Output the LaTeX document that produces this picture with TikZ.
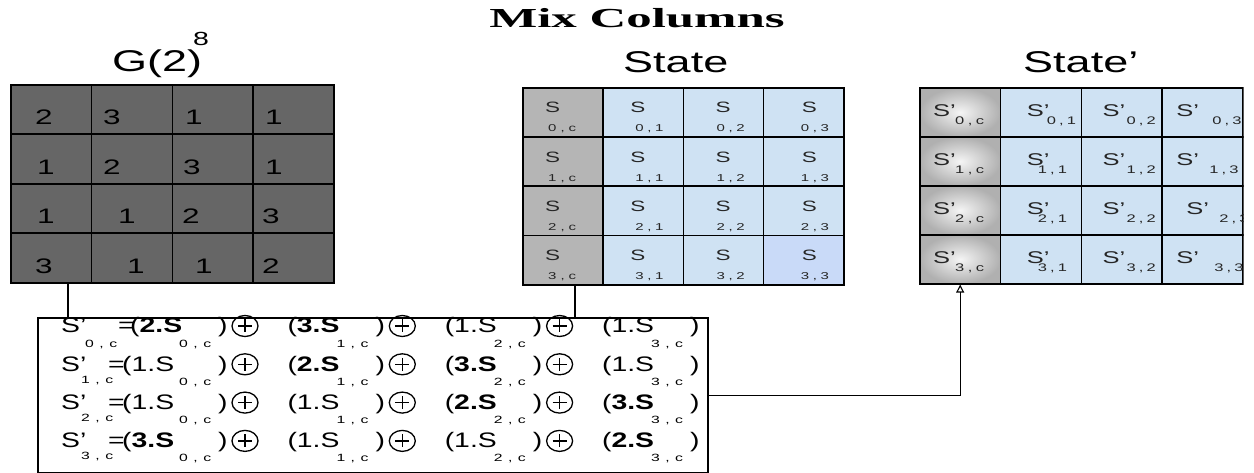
\documentclass[tikz,border=0pt]{standalone}
\usepackage{fontspec}
\setmainfont{Liberation Sans}
\newfontfamily\wsf[FakeStretch=1.5]{Liberation Sans}
\newfontfamily\esf[FakeStretch=1.35]{Liberation Sans}
\newfontfamily\ttlf[FakeStretch=1.85]{Liberation Serif}
\usetikzlibrary{arrows.meta,shapes.geometric}
\definecolor{gdark}{HTML}{666666}
\definecolor{sgray}{HTML}{B5B5B5}
\definecolor{sblue}{HTML}{CFE2F3}
\definecolor{sblueb}{HTML}{C9DAF8}
\newcommand\spc[3]{\makebox[#1][s]{#2\hfill,\hfill #3}}
\begin{document}
\begin{tikzpicture}[x=1pt,y=-1pt,
  gbox/.style={draw=black,line width=1.6pt,fill=gdark,inner sep=0pt,anchor=north west,minimum width=80.75pt,minimum height=49.5pt},
  sbox/.style={draw=black,line width=1.6pt,fill=sblue,inner sep=0pt,anchor=north west,minimum width=80.25pt,minimum height=49.25pt},
  pbox/.style={draw=black,line width=1.6pt,fill=sblue,inner sep=0pt,anchor=north west,minimum width=80.75pt,minimum height=49pt},
  txt/.style={inner sep=0pt,anchor=base west},
  gnum/.style={txt,font=\wsf\fontsize{21}{21}\selectfont},
  lbl/.style={txt,font=\wsf\fontsize{30}{30}\selectfont},
  sS/.style={txt,font=\wsf\fontsize{15}{15}\selectfont,text=black!85},
  sSub/.style={txt,font=\wsf\fontsize{10}{10}\selectfont,text=black!85},
  pS/.style={txt,font=\wsf\fontsize{17}{17}\selectfont,text=black!85},
  pSub/.style={txt,font=\wsf\fontsize{11}{11}\selectfont,text=black!85},
  eqtxt/.style={txt,font=\esf\fontsize{21}{21}\selectfont},
  eqsub/.style={txt,font=\wsf\fontsize{10.5}{10.5}\selectfont},
  oplus/.style={draw=black,ellipse,line width=1.3pt,minimum width=26pt,minimum height=21pt,inner sep=0pt},
  conn/.style={draw=black,line width=1.3pt}
]
\useasboundingbox (0,0) rectangle (1254,473);

% title
\node[anchor=base,inner sep=0pt,font=\ttlf\bfseries\fontsize{27.5}{27.5}\selectfont] (title) at (637,28) {Mix Columns};

% labels
\node[lbl] (glbl) at (112,72) {G(2)};
\node[txt,font=\wsf\fontsize{19}{19}\selectfont] (gsup) at (193,46) {8};
\node[lbl] (slbl) at (623,73) {State};
\node[lbl] (plbl) at (1023,73) {State’};

% G(2)^8 matrix
\foreach \r in {0,...,3}
  \foreach \c in {0,...,3}
    \node[gbox] (g\r\c) at ({10+80.75*\c},{84+49.5*\r}) {};
\foreach \r/\c/\x/\t in {0/0/35/2,0/1/103/3,0/2/185/1,0/3/265/1,
                          1/0/37/1,1/1/103/2,1/2/183/3,1/3/265/1,
                          2/0/37/1,2/1/118/1,2/2/182/2,2/3/262/3,
                          3/0/35/3,3/1/127/1,3/2/195/1,3/3/262/2}
  \node[gnum] (gd\r\c) at (\x,{84+49.5*\r+41}) {\t};

% State matrix
\foreach \r in {0,...,3}{
  \node[sbox,fill=sgray] (s\r0) at (522,{87+49.25*\r}) {};
  \foreach \c in {1,2,3}
    \node[sbox] (s\r\c) at ({522+80.25*\c},{87+49.25*\r}) {};
}
\node[sbox,fill=sblueb] (s33) at ({522+80.25*3},{87+49.25*3}) {};
\foreach \r in {0,...,3}{
  \foreach \c/\sx/\bx/\q in {0/23/26/c,1/28/33/1,2/33/34/2,3/39/38/3}{
    \node[sS] (ss\r\c) at ({522+80.25*\c+\sx},{87+49.25*\r+26}) {S};
    \node[sSub] (sb\r\c) at ({522+80.25*\c+\bx},{87+49.25*\r+45}) {\spc{28pt}{\r}{\q}};
  }
}

% State' matrix
\begin{scope}
\clip (0,0) rectangle (1243.5,473);
\foreach \r in {0,...,3}{
  \node[pbox,shading=radial,inner color=gray!8,outer color=gray!62] (p\r0) at (919,{87+49*\r}) {};
  \foreach \c in {1,2,3}
    \node[pbox] (p\r\c) at ({919+80.75*\c},{87+49*\r}) {};
}
\foreach \r/\c/\sx/\bx/\q in {0/0/14/36/c,1/0/14/36/c,2/0/14/36/c,3/0/14/36/c,
   0/1/27/47/1,1/1/27/38/1,2/1/27/38/1,3/1/27/38/1,
   0/2/22/46/2,1/2/22/46/2,2/2/22/46/2,3/2/22/46/2,
   0/3/15/51/3,1/3/15/48/3,2/3/25/58/3,3/3/15/53/3}{
  \node[pS] (ps\r\c) at ({919+80.75*\c+\sx},{87+49*\r+30}) {S’};
  \node[pSub] (pb\r\c) at ({919+80.75*\c+\bx},{87+49*\r+38}) {\spc{29pt}{\r}{\q}};
}
\end{scope}

% equation box
\node[draw=black,line width=1.6pt,anchor=north west,inner sep=0pt,minimum width=670pt,minimum height=155pt] (eq) at (37,317) {};

\foreach \r/\ex/\tz/\qa/\qb/\qc/\qd in {
   0/118/130/{\bfseries 2}/{\bfseries 3}/1/1,
   1/108/122/1/{\bfseries 2}/{\bfseries 3}/1,
   2/108/122/1/1/{\bfseries 2}/{\bfseries 3},
   3/108/122/{\bfseries 3}/1/1/{\bfseries 2}}{
  \pgfmathsetmacro\bl{333+38.3*\r}
  \node[eqtxt] (sp\r) at (61,\bl) {S’};
  \ifnum\r=0
    \node[eqsub] (sps\r) at (85,\bl+14) {\spc{32pt}{\r}{c}};
  \else
    \node[eqsub] (sps\r) at (81,\bl+12) {\spc{32pt}{\r}{c}};
  \fi
  \node[eqtxt] (eqs\r) at (\ex,\bl) {=};
  \foreach \k/\cf in {0/\qa,1/\qb,2/\qc,3/\qd}{
    \pgfmathsetmacro\tt{130+157.3*\k}
    \ifnum\k=0 \pgfmathsetmacro\ts{\tz}\else \pgfmathsetmacro\ts{\tt}\fi
    \node[eqtxt] (tm\r\k) at (\ts,\bl) {(\cf.S};
    \node[eqsub] (tb\r\k) at (\tt+49,\bl+14) {\spc{32pt}{\k}{c}};
    \node[eqtxt] (tc\r\k) at (\tt+88,\bl) {)};
  }
  \foreach \k in {0,1,2}{
    \pgfmathsetmacro\ox{130+157.3*\k+115}
    \node[oplus] (op\r\k) at (\ox,\bl-7) {};
    \draw[line width=1.3pt] (op\r\k.center) +(-7,0) -- +(7,0);
    \draw[line width=1.3pt] (op\r\k.center) +(0,-6.5) -- +(0,6.5);
  }
}

% connectors
\coordinate (gx) at (68,0);
\coordinate (sx) at (575,0);
\draw[conn] (g30.south -| gx) -- (eq.north -| gx);
\draw[conn] (s30.south -| sx) -- (eq.north -| sx);
\draw[conn,-{Triangle[open,length=8pt,width=8pt,line width=1.1pt]}] (eq.east) -| (p30.south);
\end{tikzpicture}
\end{document}
